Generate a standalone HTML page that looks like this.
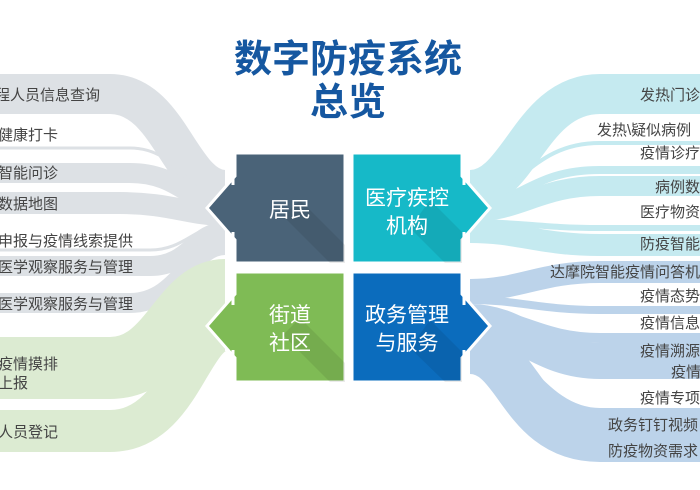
<!DOCTYPE html>
<html><head><meta charset="utf-8"><style>
body{margin:0;background:#fff;}
svg{display:block;font-family:"Liberation Sans","Noto Sans CJK SC",sans-serif;}
.l{font-size:15px;fill:#444;}
</style></head><body>
<svg width="700" height="490" viewBox="0 0 700 490">
<g fill="none" stroke-linecap="butt">
<path d="M0 94 H110 C170 94 180 190 225 190" stroke="#dde1e5" stroke-width="40"/>
<path d="M0 148 H130 C180 148 190 200 225 200" stroke="#dde1e5" stroke-width="3"/>
<path d="M0 173 H130 C180 173 190 205 225 205" stroke="#dde1e5" stroke-width="20"/>
<path d="M0 203 H120 C170 203 190 215 225 215" stroke="#dde1e5" stroke-width="22"/>
<path d="M0 250 H150 C185 250 195 225 225 225" stroke="#dde1e5" stroke-width="3"/>
<path d="M0 266 H150 C190 266 195 232 225 232" stroke="#dde1e5" stroke-width="20"/>
<path d="M0 303 H130 C180 303 190 245 225 245" stroke="#dde1e5" stroke-width="20"/>
<path d="M0 368 H110 C170 368 180 290 225 290" stroke="#dcebd2" stroke-width="62"/>
<path d="M0 431 H110 C180 431 190 330 225 330" stroke="#dcebd2" stroke-width="42"/>
<path d="M700 94 H600 C530 94 520 190 470 190" stroke="#c5eaf0" stroke-width="40"/>
<path d="M700 143 H600 C530 143 520 198 470 198" stroke="#c5eaf0" stroke-width="4"/>
<path d="M700 170 H600 C530 170 520 205 470 205" stroke="#c5eaf0" stroke-width="8"/>
<path d="M700 186 H600 C540 186 520 212 470 212" stroke="#c5eaf0" stroke-width="20"/>
<path d="M700 228 H600 C540 228 520 222 470 222" stroke="#c5eaf0" stroke-width="6"/>
<path d="M700 245 H600 C540 245 520 232 470 232" stroke="#c5eaf0" stroke-width="22"/>
<path d="M700 272 H600 C540 272 520 290 470 290" stroke="#bcd3ea" stroke-width="22"/>
<path d="M700 310 H600 C540 310 520 300 470 300" stroke="#bcd3ea" stroke-width="8"/>
<path d="M700 338 H600 C540 338 520 312 470 312" stroke="#bcd3ea" stroke-width="10"/>
<path d="M700 361 H600 C540 361 520 322 470 322" stroke="#bcd3ea" stroke-width="36"/>
<path d="M700 412 H600 C540 412 520 335 470 335" stroke="#bcd3ea" stroke-width="8"/>
<path d="M700 438 H600 C520 438 520 350 470 350" stroke="#bcd3ea" stroke-width="48"/>
</g>
<text x="348" y="72" font-size="38" font-weight="bold" fill="#1557a0" text-anchor="middle">数字防疫系统</text>
<text x="348" y="115" font-size="38" font-weight="bold" fill="#1557a0" text-anchor="middle">总览</text>
<polygon points="235,153 345,153 345,263 235,263 235,240 207,208 235,176" fill="#4a6378" stroke="#fff" stroke-width="3"/>
<polygon points="352,153 462,153 462,176 490,208 462,240 462,263 352,263" fill="#16b9c8" stroke="#fff" stroke-width="3"/>
<polygon points="235,272 345,272 345,382 235,382 235,358 207,326 235,294" fill="#7fbb55" stroke="#fff" stroke-width="3"/>
<polygon points="352,272 462,272 462,294 490,326 462,358 462,382 352,382" fill="#0b6cbd" stroke="#fff" stroke-width="3"/>
<polygon points="300,225 345,265 345,263 300,263" fill="#000" opacity="0"/>
<polygon points="305,222 345,262 345,263 263,263 263,222" fill="#000" opacity="0"/>
<polygon points="300,200 345,245 345,263 330,263 283,216" fill="#000" opacity="0.08"/>
<polygon points="430,200 462,232 462,263 445,263 410,228" fill="#000" opacity="0.08"/>
<polygon points="300,318 345,363 345,382 330,382 283,335" fill="#000" opacity="0.08"/>
<polygon points="430,320 462,352 462,382 445,382 410,348" fill="#000" opacity="0.08"/>
<g stroke="#fff" stroke-width="3" fill="none">
<path d="M233 170 V185 M233 232 V247 M464 170 V185 M464 232 V247 M233 290 V305 M233 350 V365 M464 290 V305 M464 350 V365"/>
</g>
<g fill="#fff" font-size="21" text-anchor="middle">
<text x="290" y="217">居民</text>
<text x="407" y="205">医疗疾控</text>
<text x="407" y="233">机构</text>
<text x="290" y="322">街道</text>
<text x="290" y="350">社区</text>
<text x="407" y="322">政务管理</text>
<text x="407" y="350">与服务</text>
</g>
<text class="l" x="-5" y="100">程人员信息查询</text>
<text class="l" x="-2" y="140">健康打卡</text>
<text class="l" x="-2" y="178">智能问诊</text>
<text class="l" x="-2" y="209">数据地图</text>
<text class="l" x="-2" y="246">申报与疫情线索提供</text>
<text class="l" x="-2" y="272">医学观察服务与管理</text>
<text class="l" x="-2" y="309">医学观察服务与管理</text>
<text class="l" x="-2" y="369">疫情摸排</text>
<text class="l" x="-2" y="388">上报</text>
<text class="l" x="-2" y="437">人员登记</text>
<text class="l" x="640" y="100">发热门诊</text>
<text class="l" x="597" y="135">发热\疑似病例</text>
<text class="l" x="640" y="158">疫情诊疗</text>
<text class="l" x="655" y="192">病例数</text>
<text class="l" x="640" y="217">医疗物资</text>
<text class="l" x="640" y="249">防疫智能</text>
<text class="l" x="550" y="277">达摩院智能疫情问答机</text>
<text class="l" x="640" y="301">疫情态势</text>
<text class="l" x="640" y="328">疫情信息</text>
<text class="l" x="640" y="356">疫情溯源</text>
<text class="l" x="671" y="377">疫情</text>
<text class="l" x="640" y="403">疫情专项</text>
<text class="l" x="608" y="430">政务钉钉视频</text>
<text class="l" x="608" y="456">防疫物资需求</text>
</svg>
</body></html>
